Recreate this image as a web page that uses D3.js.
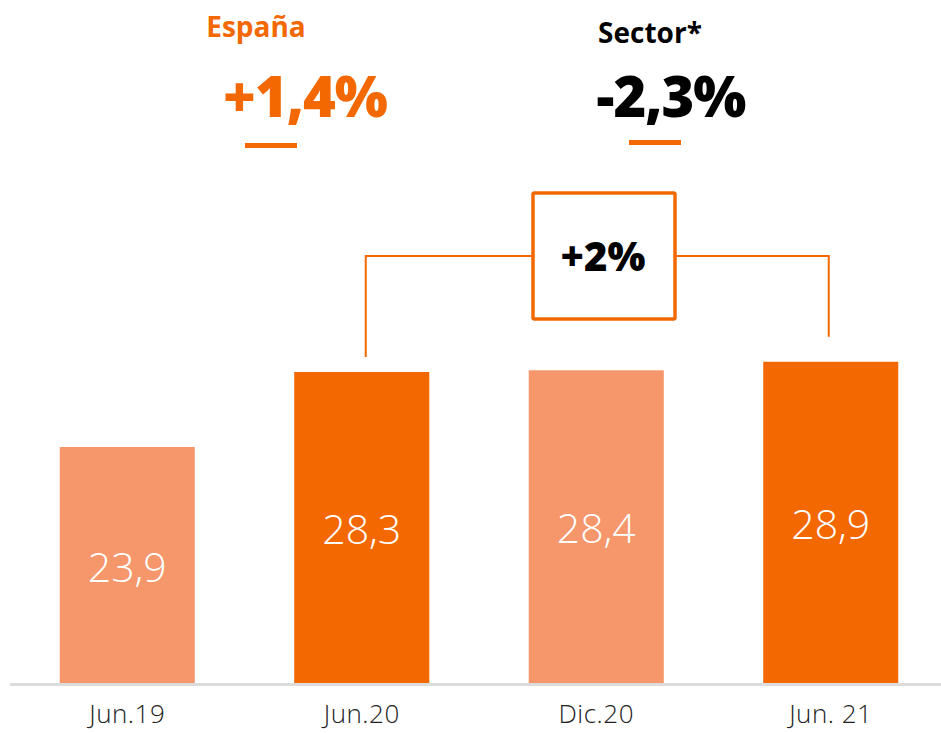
<!DOCTYPE html>
<html>
<head>
<meta charset="utf-8">
<script src="https://cdn.jsdelivr.net/npm/d3@7"></script>
<style>
  body { margin: 0; background: #fff; }
  svg { display: block; }
</style>
</head>
<body>
<svg id="chart" width="941" height="733"></svg>
<script>
// data
const categories = ["Jun.19", "Jun.20", "Dic.20", "Jun. 21"];
const values = [23.9, 28.3, 28.4, 28.9];
const valueLabels = ["23,9", "28,3", "28,4", "28,9"];
const barTones = ["light", "dark", "light", "dark"];
const headers = [
  { title: "España", change: "+1,4%", tone: "orange" },
  { title: "Sector*", change: "-2,3%", tone: "black" }
];
const bracketFrom = "Jun.20";
const bracketTo = "Jun. 21";
const bracketLabel = "+2%";

const ORANGE = "#f36800";
const LIGHT = "#f5966b";

const svg = d3.select("#chart");
const width = +svg.attr("width");

const x = d3.scaleBand()
  .domain(categories)
  .range([10, 948])
  .paddingInner(0.424)
  .paddingOuter(0.212);

const y = d3.scaleLinear()
  .domain([10, 40])
  .range([684, 172.5]);

const cx = d => x(d) + x.bandwidth() / 2;

// bars
svg.selectAll(".bar")
  .data(categories)
  .enter()
  .append("rect")
  .attr("class", "bar")
  .attr("x", d => x(d))
  .attr("y", (d, i) => y(values[i]))
  .attr("width", x.bandwidth())
  .attr("height", (d, i) => y(10) - y(values[i]))
  .attr("fill", (d, i) => (barTones[i] === "dark" ? ORANGE : LIGHT));

// value labels inside bars
svg.selectAll(".val")
  .data(categories)
  .enter()
  .append("text")
  .attr("class", "val")
  .attr("x", d => cx(d))
  .attr("y", (d, i) => (y(values[i]) + y(10)) / 2 + 16)
  .attr("text-anchor", "middle")
  .attr("fill", "#fff")
  .style("font", "300 41px 'Open Sans', sans-serif")
  .text((d, i) => valueLabels[i]);

// baseline axis
const xAxis = svg.append("g")
  .attr("transform", "translate(0," + (y(10) + 0.5) + ")")
  .call(d3.axisBottom(x).tickSize(0).tickPadding(38));
xAxis.select(".domain")
  .attr("d", "M10,0H" + width)
  .attr("stroke", "#dcdcdc")
  .attr("stroke-width", 3);
xAxis.selectAll("text")
  .attr("dy", "0")
  .attr("fill", "#222")
  .style("font", "300 26px 'Open Sans', sans-serif")
  .style("letter-spacing", "0.5px");

// headers
const headerX = [256, 650];
const changeX = [305, 671];
const dashX = [271, 655];
headers.forEach((h, i) => {
  const col = h.tone === "orange" ? ORANGE : "#000";
  svg.append("text")
    .attr("x", headerX[i])
    .attr("y", 37 + i * 6)
    .attr("text-anchor", "middle")
    .attr("fill", col)
    .style("font", "700 28px 'Open Sans', sans-serif")
    .text(h.title);
  svg.append("text")
    .attr("x", changeX[i])
    .attr("y", 117)
    .attr("text-anchor", "middle")
    .attr("fill", col)
    .style("font", "800 56px 'Open Sans', sans-serif")
    .style("letter-spacing", "-1px")
    .text(h.change);
  svg.append("rect")
    .attr("x", dashX[i] - 26)
    .attr("y", i === 0 ? 143 : 140)
    .attr("width", 52)
    .attr("height", 5)
    .attr("fill", ORANGE);
});

// bracket between Jun.20 and Jun.21
const bx1 = cx(bracketFrom) + 4;
const bx2 = cx(bracketTo) - 2;
const by = 256;
const i1 = categories.indexOf(bracketFrom);
const i2 = categories.indexOf(bracketTo);
const box = { x: 533, y: 193, w: 142, h: 126 };

svg.append("path")
  .attr("d", "M" + bx1 + "," + (y(values[i1]) - 15) + "V" + by + "H" + box.x)
  .attr("fill", "none")
  .attr("stroke", ORANGE)
  .attr("stroke-width", 2);
svg.append("path")
  .attr("d", "M" + (box.x + box.w) + "," + by + "H" + bx2 + "V" + (y(values[i2]) - 25))
  .attr("fill", "none")
  .attr("stroke", ORANGE)
  .attr("stroke-width", 2);
svg.append("rect")
  .attr("x", box.x)
  .attr("y", box.y)
  .attr("width", box.w)
  .attr("height", box.h)
  .attr("rx", 1.5)
  .attr("fill", "#fff")
  .attr("stroke", ORANGE)
  .attr("stroke-width", 3.5);
svg.append("text")
  .attr("x", box.x + box.w / 2 - 1)
  .attr("y", 271)
  .attr("text-anchor", "middle")
  .attr("fill", "#000")
  .style("font", "800 40px 'Open Sans', sans-serif")
  .text(bracketLabel);
</script>
</body>
</html>
